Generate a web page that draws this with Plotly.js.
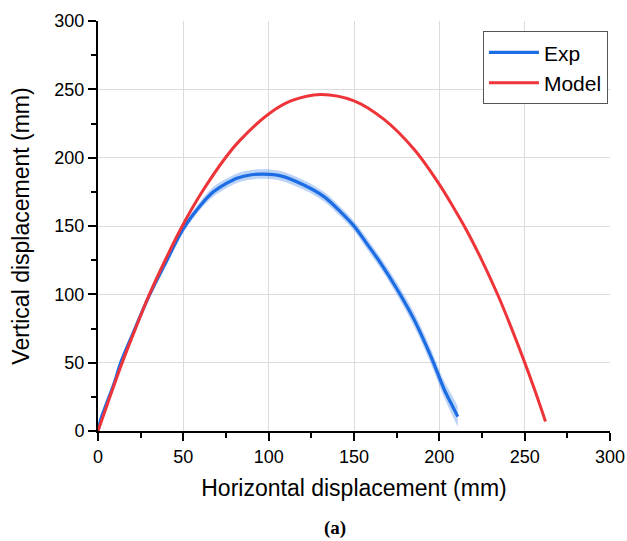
<!DOCTYPE html>
<html>
<head>
<meta charset="utf-8">
<script src="https://cdn.plot.ly/plotly-3.0.1.min.js"></script>
<style>html,body{margin:0;padding:0;background:#fff;}#chart{width:627px;height:541px;}</style>
</head>
<body>
<div id="chart"></div>
<script>
// Experimental trajectory (mm)
var expX = [0, 2, 5, 10, 13, 20, 30, 40, 50, 60, 67.6, 75, 81.4, 90, 97, 107, 120.6, 132.4, 142, 150, 157, 165.7, 175.5, 185.3, 195.1, 203, 207, 210.8];
var expY = [0, 10, 20, 37, 49, 70, 99, 124, 148, 165, 175, 181, 185, 187.5, 188, 186.7, 180, 171.5, 160.5, 150, 138, 122.7, 103.2, 81.3, 54.4, 30, 20, 10.5];
// half-width of the shaded experimental spread (mm)
var expBand = [0, 1, 1.5, 2, 2, 2.5, 2.5, 3, 3, 3, 3.5, 3.5, 3.5, 3.5, 3.5, 3.5, 3.5, 3.5, 3.5, 3.5, 4, 4, 4.5, 5, 5.5, 6, 7, 7.5];
// Model trajectory (mm)
var modelX = [0, 7, 14, 22, 30, 40, 49.4, 60, 75, 83.4, 100, 113.4, 130.4, 150, 167.6, 185.3, 200, 208.8, 215.7, 224.5, 233.9, 241.2, 249, 255.9, 262.2];
var modelY = [0, 25.1, 49.4, 75.1, 99.6, 126.6, 150, 173, 200.5, 213, 232, 241.7, 246.3, 241.6, 228, 206, 180.5, 162.5, 147.5, 126, 100.6, 78.6, 53.5, 30, 7];

var expUpper = expY.map(function(v, i){ return v + expBand[i]; });
var expLower = expY.map(function(v, i){ return v - expBand[i]; });

var blue = 'rgb(28,108,228)';
var red = 'rgb(238,52,56)';

var traces = [
  {x: expX, y: expLower, mode: 'lines', line: {width: 0, color: 'rgba(0,0,0,0)', shape: 'spline'}, showlegend: false, hoverinfo: 'skip'},
  {x: expX, y: expUpper, mode: 'lines', line: {width: 0, color: 'rgba(0,0,0,0)', shape: 'spline'}, fill: 'tonexty', fillcolor: 'rgba(60,130,230,0.35)', showlegend: false, hoverinfo: 'skip'},
  {x: expX, y: expY, mode: 'lines', name: 'Exp', line: {color: blue, width: 3.2, shape: 'spline'}},
  {x: modelX, y: modelY, mode: 'lines', name: 'Model', line: {color: red, width: 3, shape: 'spline', smoothing: 1}}
];

var axisCommon = {
  range: [0, 300],
  dtick: 50,
  tick0: 0,
  showline: true,
  linecolor: '#000',
  linewidth: 2,
  ticks: 'outside',
  ticklen: 8,
  tickwidth: 2,
  tickcolor: '#000',
  showgrid: true,
  gridcolor: '#dcdcdc',
  gridwidth: 1,
  zeroline: false,
  tickfont: {family: 'Liberation Sans, Arial, sans-serif', size: 18, color: '#000'},
  minor: {dtick: 25, ticklen: 5, tickwidth: 2, tickcolor: '#000', ticks: 'outside', showgrid: false},
  fixedrange: true
};

var layout = {
  width: 627,
  height: 541,
  margin: {l: 98, r: 17, t: 21, b: 110},
  paper_bgcolor: '#fff',
  plot_bgcolor: '#fff',
  font: {family: 'Liberation Sans, Arial, sans-serif', color: '#000'},
  xaxis: Object.assign({}, axisCommon, {
    title: {text: 'Horizontal displacement (mm)', font: {size: 23, color: '#000'}, standoff: 14}
  }),
  yaxis: Object.assign({}, axisCommon, {
    title: {text: 'Vertical displacement (mm)', font: {size: 23, color: '#000'}, standoff: 18}
  }),
  showlegend: true,
  legend: {
    x: 0.996, y: 0.975, xanchor: 'right', yanchor: 'top',
    traceorder: 'normal',
    itemwidth: 50,
    bgcolor: '#fff', bordercolor: '#555', borderwidth: 1,
    font: {size: 21, color: '#000'},
    tracegroupgap: 0
  },
  annotations: [{
    text: '<b>(a)</b>', xref: 'paper', yref: 'paper', x: 0.463, y: -0.2366,
    xanchor: 'center', yanchor: 'middle', showarrow: false,
    font: {family: 'Liberation Serif, Times New Roman, serif', size: 19, color: '#000'}
  }]
};

Plotly.newPlot('chart', traces, layout, {displayModeBar: false, staticPlot: true});
</script>
</body>
</html>
